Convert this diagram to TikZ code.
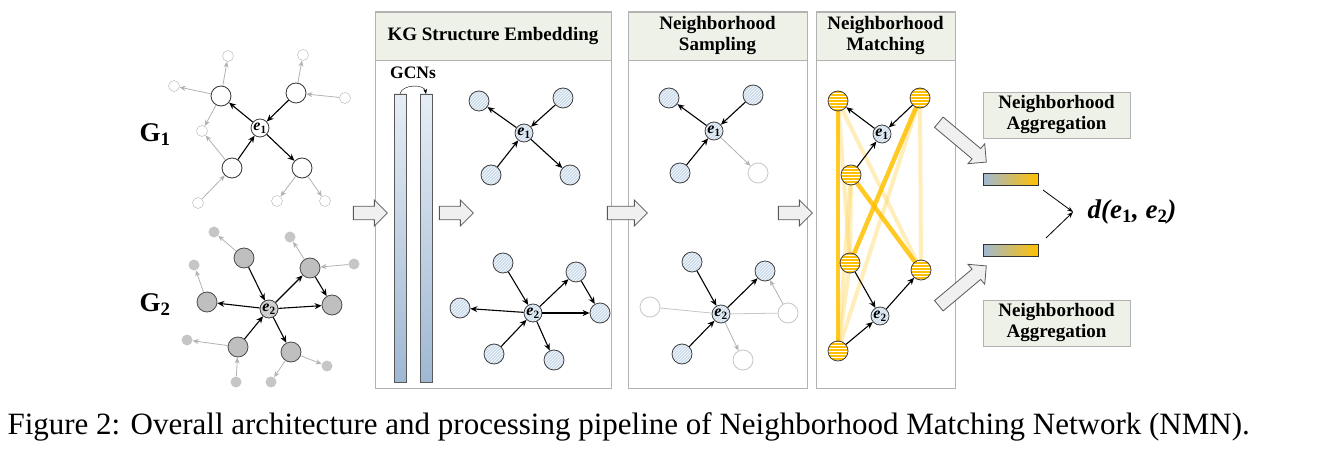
\documentclass[tikz,border=0pt]{standalone}
\usepackage{fontspec}
\setmainfont{Liberation Serif}
\usetikzlibrary{arrows.meta,patterns,shapes.arrows}
\definecolor{hdr}{HTML}{EEF1E7}
\definecolor{hb}{HTML}{C9DAEC}
\definecolor{yel}{HTML}{FFC000}
\definecolor{barb}{HTML}{9FB8D3}
\definecolor{bart}{HTML}{E6EDF5}
\tikzset{
 wb/.style={circle,draw=black!80,thick,fill=white,minimum size=20pt,inner sep=0},
 ws/.style={circle,draw=gray!60,fill=white,minimum size=11pt,inner sep=0},
 gb/.style={circle,draw=black!70,thick,fill=gray!50,minimum size=20pt,inner sep=0},
 gs/.style={circle,fill=gray!45,minimum size=11pt,inner sep=0},
 hn/.style={circle,draw=black!75,thick,preaction={fill=hb},pattern=north east lines,pattern color=white,minimum size=20pt,inner sep=0},
 cen/.style={circle,draw=black!75,thick,preaction={fill=hb},pattern=north east lines,pattern color=white,minimum size=18pt,inner sep=0,font=\bfseries\fontsize{16}{17}\selectfont},
 fn/.style={circle,draw=gray!45,thick,fill=white,minimum size=20pt,inner sep=0},
 yn/.style={circle,draw=black!75,thick,preaction={fill=yel},pattern=horizontal lines,pattern color=white,minimum size=20pt,inner sep=0},
 ba/.style={-{Stealth[length=7pt,width=6pt]},line width=1.1pt},
 ga/.style={-{Stealth[length=6pt,width=5pt]},line width=0.8pt,gray!60},
 fa/.style={line width=0.8pt,gray!45},
 blk/.style={single arrow,draw=gray!70!black,fill=gray!12,minimum height=34pt,minimum width=26pt,single arrow head extend=6pt,inner xsep=0pt,inner ysep=6pt,thick},
 hd/.style={draw=gray!60,fill=hdr,font=\bfseries\fontsize{19}{21}\selectfont,align=center},
 pan/.style={draw=gray!60,line width=1pt,fill=white},
 yt/.style={yel,line width=4.5pt,opacity=0.85},
 yf/.style={yel!60,line width=4pt,opacity=0.45},
}
\newcommand{\ee}[1]{\textbf{\textit{e}}$_{\mathbf{#1}}$}
\begin{document}
\begin{tikzpicture}[x=1pt,y=-1pt]
\useasboundingbox (0,0) rectangle (1324,454);
% G1
\node[font=\bfseries\fontsize{27}{29}\selectfont] (g1) at (155,135) {G$_\mathbf{1}$};
\node[font=\bfseries\fontsize{27}{29}\selectfont] (g2) at (155,305) {G$_\mathbf{2}$};
\node[cen,preaction={fill=white},pattern color=white] (e1) at (260,128) {\ee1};
\node[wb] (a1) at (221,96) {}; \node[wb] (a2) at (296,93) {};
\node[wb] (a3) at (232,168) {}; \node[wb] (a4) at (302,168) {};
\node[ws] (s1) at (228,56) {}; \node[ws] (s2) at (174,86) {}; \node[ws] (s3) at (202,131) {};
\node[ws] (s4) at (198,203) {}; \node[ws] (s5) at (303,55) {}; \node[ws] (s6) at (345,98) {};
\node[ws] (s7) at (277,201) {}; \node[ws] (s8) at (325,201) {};
\draw[ga] (a1)--(s1); \draw[ga] (a1)--(s2); \draw[ga] (a1)--(s3); \draw[ga] (a3)--(s3);
\draw[ga] (s4)--(a3); \draw[ga] (a2)--(s5); \draw[ga] (s6)--(a2); \draw[ga] (a4)--(s7); \draw[ga] (a4)--(s8);
\draw[ba] (e1)--(a1); \draw[ba] (a2)--(e1); \draw[ba] (a3)--(e1); \draw[ba] (e1)--(a4);
% G2
\node[cen,preaction={fill=gray!45},pattern color=gray!20] (e2) at (269,309) {\ee2};
\node[gb] (b1) at (244,258) {}; \node[gb] (b2) at (310,268) {}; \node[gb] (b3) at (332,305) {};
\node[gb] (b4) at (207,302) {}; \node[gb] (b5) at (238,347) {}; \node[gb] (b6) at (291,352) {};
\node[gs] (t1) at (214,232) {}; \node[gs] (t2) at (194,265) {}; \node[gs] (t3) at (187,340) {};
\node[gs] (t4) at (290,237) {}; \node[gs] (t5) at (354,264) {}; \node[gs] (t6) at (236,382) {};
\node[gs] (t7) at (271,382) {}; \node[gs] (t8) at (327,366) {};
\draw[ga] (b1)--(t1); \draw[ga] (b4)--(t2); \draw[ga] (b5)--(t3); \draw[ga] (b2)--(t4);
\draw[ga] (t5)--(b2); \draw[ga] (t6)--(b5); \draw[ga] (b6)--(t7); \draw[ga] (b6)--(t8);
\draw[ba] (b1)--(e2); \draw[ba] (e2)--(b2); \draw[ba] (b2)--(b3); \draw[ba] (e2)--(b3);
\draw[ba] (e2)--(b4); \draw[ba] (b5)--(e2); \draw[ba] (e2)--(b6);
% panels
\draw[pan] (375,12) rectangle (611,388); \node[hd,minimum width=236pt,minimum height=48pt] (h1) at (493,36) {KG Structure Embedding};
\draw[pan] (628,12) rectangle (807,388); \node[hd,minimum width=179pt,minimum height=48pt] (h2) at (717.5,36) {Neighborhood\\Sampling};
\draw[pan] (816,12) rectangle (955,388); \node[hd,minimum width=139pt,minimum height=48pt] (h3) at (885.5,36) {Neighborhood\\Matching};
% GCN
\node[font=\bfseries\fontsize{17.5}{19}\selectfont] (gc) at (413,73) {GCNs};
\draw[draw=gray!70!black,top color=bart,bottom color=barb] (394,94) rectangle (406,382);
\draw[draw=gray!70!black,top color=bart,bottom color=barb] (420,94) rectangle (432,382);
\coordinate (c1) at (400,94); \coordinate (c2) at (426,94);
\draw[-{Stealth[length=5pt]},thin] (c1) to[out=80,in=100] (c2);
% block arrows
\node[blk] (k1) at (367,213) {}; \node[blk] (k2) at (453,213) {};
\node[blk,minimum height=40pt] (k3) at (624,213) {}; \node[blk] (k4) at (792,213) {};
\node[blk,rotate=-40,minimum height=62pt] (k5) at (960,140) {};
\node[blk,rotate=40,minimum height=62pt] (k6) at (960,288) {};
% panel 1 graphs
\node[cen] (p1) at (524,133) {\ee1};
\node[hn] (q1) at (479,101) {}; \node[hn] (q2) at (563,98) {}; \node[hn] (q3) at (491,175) {}; \node[hn] (q4) at (570,175) {};
\draw[ba] (p1)--(q1); \draw[ba] (q2)--(p1); \draw[ba] (q3)--(p1); \draw[ba] (p1)--(q4);
\node[cen] (p2) at (533,313) {\ee2};
\node[hn] (r1) at (503,263) {}; \node[hn] (r2) at (576,272) {}; \node[hn] (r3) at (600,313) {};
\node[hn] (r4) at (460,308) {}; \node[hn] (r5) at (494,354) {}; \node[hn] (r6) at (554,360) {};
\draw[ba] (r1)--(p2); \draw[ba] (p2)--(r2); \draw[ba] (r2)--(r3); \draw[ba] (p2)--(r3);
\draw[ba] (p2)--(r4); \draw[ba] (r5)--(p2); \draw[ba] (p2)--(r6);
% panel 2
\node[cen] (m1) at (714,131) {\ee1};
\node[hn] (n1) at (669,98) {}; \node[hn] (n2) at (753,95) {}; \node[hn] (n3) at (680,173) {}; \node[fn] (n4) at (758,173) {};
\draw[ba] (m1)--(n1); \draw[ba] (n2)--(m1); \draw[ba] (n3)--(m1); \draw[ga] (m1)--(n4);
\node[cen] (m2) at (721,314) {\ee2};
\node[hn] (o1) at (692,262) {}; \node[hn] (o2) at (765,271) {}; \node[hn] (o3) at (682,354) {};
\node[fn] (o4) at (650,307) {}; \node[fn] (o5) at (788,313) {}; \node[fn] (o6) at (743,360) {};
\draw[fa] (o4)--(m2); \draw[fa] (m2)--(o5); \draw[ga] (o5)--(o2); \draw[ga] (m2)--(o6);
\draw[ba] (o1)--(m2); \draw[ba] (m2)--(o2); \draw[ba] (o3)--(m2);
% panel 3
\coordinate (L1) at (838,101); \coordinate (R1) at (920,98); \coordinate (M1) at (851,175);
\coordinate (L2) at (850,263); \coordinate (R2) at (921,270); \coordinate (B) at (838,351);
\draw[yf] (L1)--(R2); \draw[yf] (L1)--(L2); \draw[yf] (M1)--(L2); \draw[yf] (M1)--(B);
\draw[yf] (R1)--(R2); \draw[yf] (R1)--(B); \draw[yf] (L2)--(B);
\draw[yt] (L1)--(B); \draw[yt] (R1)--(L2); \draw[yt] (M1)--(R2);
\node[cen] (f1) at (882,134) {\ee1}; \node[cen] (f2) at (880,316) {\ee2};
\node[yn] (y1) at (L1) {}; \node[yn] (y2) at (R1) {}; \node[yn] (y3) at (M1) {};
\node[yn] (y4) at (L2) {}; \node[yn] (y5) at (R2) {}; \node[yn] (y6) at (B) {};
\draw[ba] (f1)--(y1); \draw[ba] (y2)--(f1); \draw[ba] (y3)--(f1);
\draw[ba] (y4)--(f2); \draw[ba] (f2)--(y5); \draw[ba] (y6)--(f2);
% aggregation
\node[hd,minimum width=147pt,minimum height=46pt] (ag1) at (1056.5,115) {Neighborhood\\Aggregation};
\node[hd,minimum width=147pt,minimum height=46pt] (ag2) at (1056.5,323) {Neighborhood\\Aggregation};
\node[draw=black!80,thick,left color=barb,right color=yel,minimum width=55pt,minimum height=12pt,inner sep=0] (v1) at (1010.5,179.5) {};
\node[draw=black!80,thick,left color=barb,right color=yel,minimum width=55pt,minimum height=12pt,inner sep=0] (v2) at (1010.5,250.5) {};
\node[font=\fontsize{27}{29}\selectfont\bfseries\itshape] (d) at (1132,212) {d(e$_\mathbf{1}$, e$_\mathbf{2}$)};
\coordinate (j) at (1073,212);
\coordinate (u1) at (1043,190); \coordinate (u2) at (1046,238);
\draw[-{Stealth[length=6pt]},thick] (u1)--(j);
\draw[-{Stealth[length=6pt]},thick] (u2)--(j);
% caption
\node[anchor=west,font=\fontsize{31}{33}\selectfont] (cap) at (4,427) {Figure 2: Overall architecture and processing pipeline of Neighborhood Matching Network (NMN).};
\end{tikzpicture}
\end{document}
